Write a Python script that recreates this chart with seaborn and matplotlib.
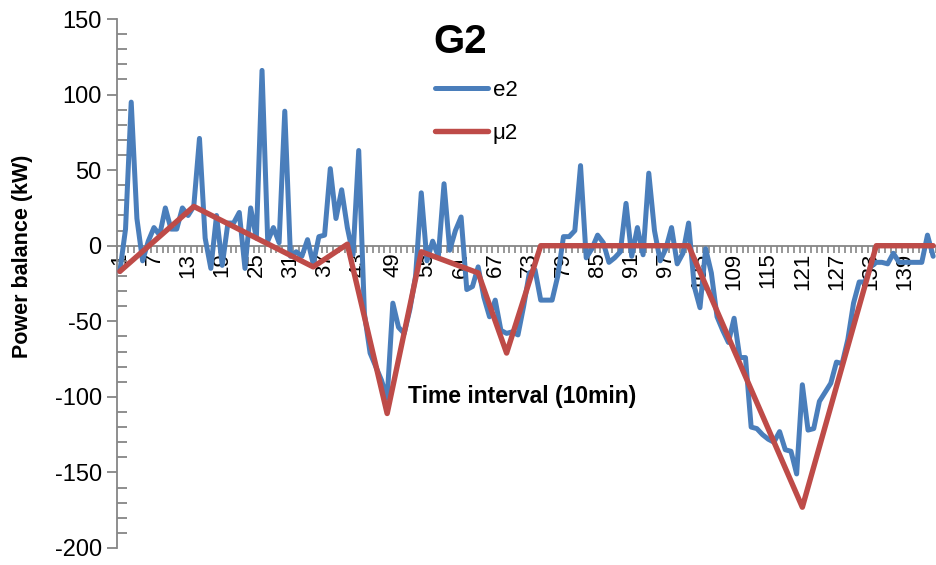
import numpy as np
import pandas as pd
import matplotlib
matplotlib.use('Agg')
import matplotlib.pyplot as plt
import seaborn as sns
from matplotlib.ticker import MultipleLocator, FixedLocator

# ---- data ----
t = list(range(1, 145))
e2 = [-17, 11, 95, 18, -10, 3, 12, 7, 25, 11,
      11, 25, 20, 26, 71, 5, -15, 20, -13, 15,
      15, 22, -15, 25, 5, 116, 3, 12, 2, 89,
      -7, -4, -7, 4, -12, 6, 7, 51, 18, 37,
      12, -6, 63, -45, -71, -80, -89, -101, -38, -54,
      -58, -42, -20, 35, -10, 3, -7, 41, -3, 10,
      19, -29, -27, -14, -34, -47, -36, -56, -58, -57,
      -59, -40, -18, -16, -36, -36, -36, -20, 6, 6,
      10, 53, -8, -2, 7, 2, -11, -8, -4, 28,
      -7, 12, -6, 48, 10, -10, -2, 12, -12, -5,
      15, -27, -41, -2, -18, -47, -56, -64, -48, -74,
      -74, -120, -121, -125, -128, -130, -123, -135, -136, -151,
      -92, -122, -121, -103, -97, -91, -77, -78, -62, -38,
      -24, -24, -14, -11, -11, -12, -5, -11, -11, -11,
      -11, -11, 7, -7]
mu2_t = [1, 14, 35, 41, 48, 54, 64, 69, 75, 101, 121, 134, 144]
mu2 = [-17, 26, -14, 1, -111, -4, -18, -71, 0, 0, -173, 0, 0]
xtick_vals = list(range(1, 145, 6))
ytick_vals = [-200, -150, -100, -50, 0, 50, 100, 150]

sns.set_theme(style='white')
plt.rcParams['font.family'] = ['Liberation Sans', 'DejaVu Sans']
plt.rcParams['text.color'] = 'black'
plt.rcParams['axes.labelcolor'] = 'black'

fig = plt.figure(figsize=(9.36, 5.65), dpi=100)
ax = fig.add_axes([117/936, 17/565, 819/936, 529/565])

df_e = pd.DataFrame({'t': t, 'v': e2})
df_m = pd.DataFrame({'t': mu2_t, 'v': mu2})
sns.lineplot(data=df_e, x='t', y='v', ax=ax, color='#4A7EBB', lw=3.6,
             label='e2', zorder=3)
sns.lineplot(data=df_m, x='t', y='v', ax=ax, color='#BE4B48', lw=3.9,
             label='μ2', zorder=4)

ax.set_xlim(0.5, 144.5)
ax.set_ylim(-200, 150)
for s in ['top', 'right']:
    ax.spines[s].set_visible(False)
ax.spines['bottom'].set_position(('data', 0))
for s in ['left', 'bottom']:
    ax.spines[s].set_color('#868686')
    ax.spines[s].set_linewidth(1.3)

ax.tick_params(which='both', left=True, bottom=True, top=False, right=False)

ax.yaxis.set_major_locator(FixedLocator(ytick_vals))
ax.yaxis.set_minor_locator(MultipleLocator(10))
ax.set_yticklabels([str(v) for v in ytick_vals])
ax.tick_params(axis='y', which='major', direction='out', length=7, width=1.3,
               color='#868686', labelsize=17, pad=4, labelcolor='black')
ax.tick_params(axis='y', which='minor', direction='in', length=7, width=1.3,
               color='#868686')

ax.xaxis.set_major_locator(FixedLocator(xtick_vals))
ax.set_xticklabels([str(v) for v in xtick_vals], rotation=90)
ax.xaxis.set_minor_locator(FixedLocator(np.arange(0.5, 145, 1)))
ax.tick_params(axis='x', which='major', length=0, labelsize=16, pad=5,
               labelcolor='black')
ax.tick_params(axis='x', which='minor', direction='out', length=5, width=1.2,
               color='#868686')

ax.set_ylabel('Power balance (kW)', fontsize=15.5, fontweight='bold')
ax.yaxis.set_label_coords(-0.103, 0.552)
ax.set_xlabel('Time interval (10min)', fontsize=16.5, fontweight='bold')
ax.xaxis.set_label_coords(0.495, 0.287)
ax.xaxis.label.set_va('center')

ax.text(0.419, 0.957, 'G2', transform=ax.transAxes, ha='center', va='center',
        fontsize=29, fontweight='bold', color='black')

ax.legend(loc='upper left', bbox_to_anchor=(0.388, 0.885), frameon=False,
          fontsize=16, handlelength=2.4, handletextpad=0.2, labelspacing=0.98,
          borderpad=0, borderaxespad=0, labelcolor='black')

fig.savefig('out.png', dpi=100)
